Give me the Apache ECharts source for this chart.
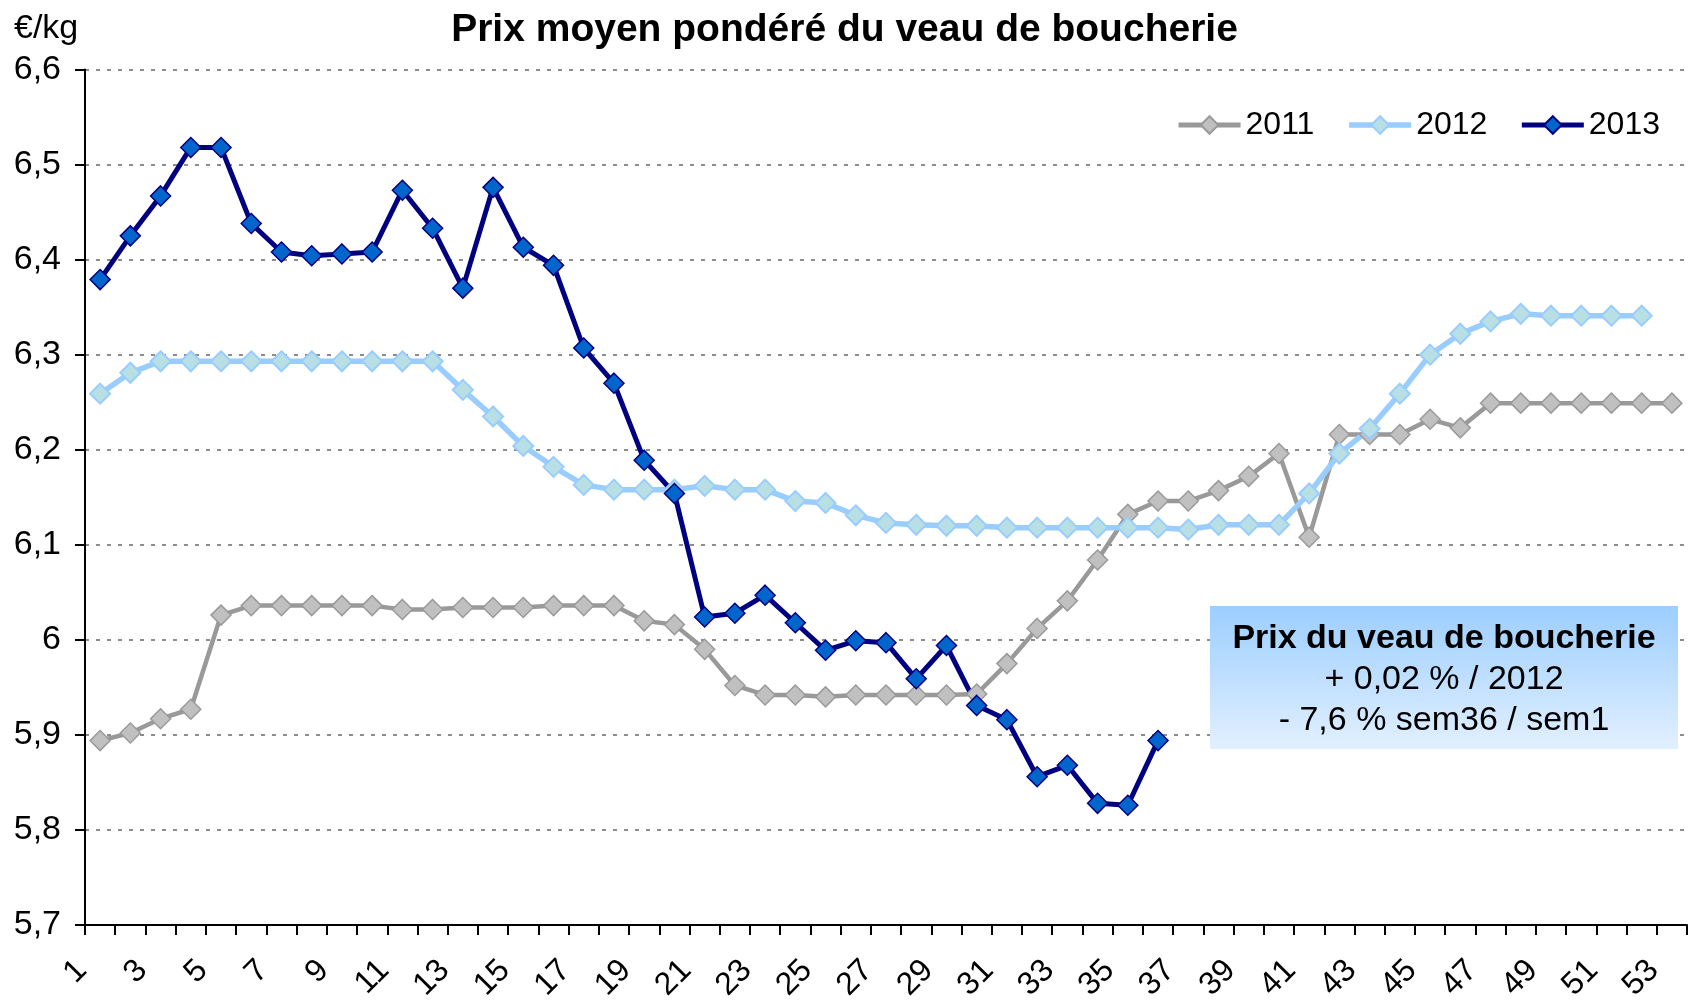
<!DOCTYPE html>
<html>
<head>
<meta charset="utf-8">
<script src="https://cdn.jsdelivr.net/npm/echarts@6/dist/echarts.min.js"></script>
<style>
html,body{margin:0;padding:0;background:#fff;}
#chart{width:1689px;height:1001px;}
</style>
</head>
<body>
<div id="chart"></div>
<script>
var weeks = ['1','2','3','4','5','6','7','8','9','10','11','12','13','14','15','16','17','18','19','20','21','22','23','24','25','26','27','28','29','30','31','32','33','34','35','36','37','38','39','40','41','42','43','44','45','46','47','48','49','50','51','52','53'];

var s2011 = [5.894,5.902,5.917,5.927,6.026,6.036,6.036,6.036,6.036,6.036,6.032,6.032,6.034,6.034,6.034,6.036,6.036,6.036,6.020,6.016,5.990,5.952,5.942,5.942,5.940,5.942,5.942,5.942,5.942,5.943,5.975,6.012,6.041,6.084,6.132,6.146,6.146,6.157,6.172,6.196,6.108,6.216,6.216,6.216,6.232,6.223,6.249,6.249,6.249,6.249,6.249,6.249,6.249];

var s2012 = [6.259,6.281,6.293,6.293,6.293,6.293,6.293,6.293,6.293,6.293,6.293,6.293,6.263,6.235,6.204,6.182,6.163,6.158,6.158,6.158,6.162,6.158,6.158,6.146,6.144,6.131,6.123,6.121,6.120,6.120,6.118,6.118,6.118,6.118,6.118,6.118,6.116,6.121,6.121,6.121,6.154,6.196,6.222,6.259,6.300,6.322,6.335,6.343,6.341,6.341,6.341,6.341];

var s2013 = [6.379,6.425,6.467,6.518,6.518,6.438,6.408,6.404,6.406,6.408,6.473,6.433,6.370,6.476,6.413,6.394,6.307,6.270,6.189,6.154,6.024,6.028,6.047,6.018,5.989,5.999,5.997,5.959,5.994,5.931,5.916,5.856,5.868,5.828,5.826,5.894];

var seriesNames = ['2011','2012','2013'];
var titleText = 'Prix moyen pondéré du veau de boucherie';
var unitText = '€/kg';
var noteLines = ['Prix du veau de boucherie', '+ 0,02 % / 2012', '- 7,6 % sem36 / sem1'];

var FONT = '"Liberation Sans", Arial, sans-serif';

var chart = echarts.init(document.getElementById('chart'), null, {renderer:'canvas'});

function mk(name, data, lineColor, lineW, fill, border, bw) {
  return {
    name: name, type: 'line', data: data,
    symbol: 'diamond', symbolSize: 20, showAllSymbol: true,
    lineStyle: {color: lineColor, width: lineW},
    itemStyle: {color: fill, borderColor: border, borderWidth: bw},
    emphasis: {disabled: true},
    animation: false
  };
}

chart.setOption({
  backgroundColor: '#ffffff',
  animation: false,
  title: {
    text: titleText, left: 'center', top: 6,
    textStyle: {fontFamily: FONT, fontSize: 39, fontWeight: 'bold', color: '#000'}
  },
  legend: {
    data: [
      {name: seriesNames[0], lineStyle: {width: 5, color: '#999999'}},
      {name: seriesNames[1], lineStyle: {width: 5.5, color: '#99ccff'}},
      {name: seriesNames[2], lineStyle: {width: 5, color: '#000080'}}
    ],
    right: 24, top: 104,
    itemWidth: 62, itemHeight: 22, itemGap: 32,
    textStyle: {fontFamily: FONT, fontSize: 32, color: '#000'}
  },
  grid: {left: 85, right: 2, top: 69.5, bottom: 76, containLabel: false, outerBoundsMode: 'none'},
  xAxis: {
    type: 'category', data: weeks, boundaryGap: true,
    axisLine: {lineStyle: {color: '#000', width: 2}},
    axisTick: {show: true, interval: 0, length: 10, lineStyle: {color: '#000', width: 2}},
    axisLabel: {interval: 1, rotate: 45, margin: 22, padding: [0, 26, 0, 0],
      fontFamily: FONT, fontSize: 32, color: '#000'},
    splitLine: {show: false}
  },
  yAxis: {
    type: 'value', min: 5.7, max: 6.6, interval: 0.1,
    axisLine: {show: true, lineStyle: {color: '#000', width: 2}},
    axisTick: {show: true, length: 10, lineStyle: {color: '#000', width: 2}},
    axisLabel: {margin: 24, fontFamily: FONT, fontSize: 34, color: '#000',
      formatter: function (v) { return String(Math.round(v * 10) / 10).replace('.', ','); }},
    splitLine: {show: true, lineStyle: {color: '#8c8c8c', width: 2, type: [4, 7]}}
  },
  graphic: [
    {type: 'text', left: 14, top: 12, style: {text: unitText, fontFamily: FONT, fontSize: 34, fill: '#000'}},
    {type: 'rect', shape: {x: 1210, y: 606, width: 468, height: 143},
      style: {fill: {type: 'linear', x: 0, y: 0, x2: 0, y2: 1,
        colorStops: [{offset: 0, color: '#9ccefe'}, {offset: 1, color: '#e2f0ff'}]}}, z: 10},
    {type: 'text', x: 1444, y: 639, z: 11, style: {text: noteLines[0], align: 'center', verticalAlign: 'middle',
      fontFamily: FONT, fontSize: 34, fontWeight: 'bold', fill: '#000'}},
    {type: 'text', x: 1444, y: 680, z: 11, style: {text: noteLines[1], align: 'center', verticalAlign: 'middle',
      fontFamily: FONT, fontSize: 34, fill: '#000'}},
    {type: 'text', x: 1444, y: 721, z: 11, style: {text: noteLines[2], align: 'center', verticalAlign: 'middle',
      fontFamily: FONT, fontSize: 34, fill: '#000'}}
  ],
  series: [
    mk(seriesNames[0], s2011, '#999999', 4.5, '#c0c0c0', '#9a9a9a', 1.5),
    mk(seriesNames[1], s2012, '#99ccff', 5.5, '#b8e0e4', '#99ccff', 2),
    mk(seriesNames[2], s2013, '#000080', 5, '#0066cc', '#000080', 1.5)
  ]
});
</script>
</body>
</html>
